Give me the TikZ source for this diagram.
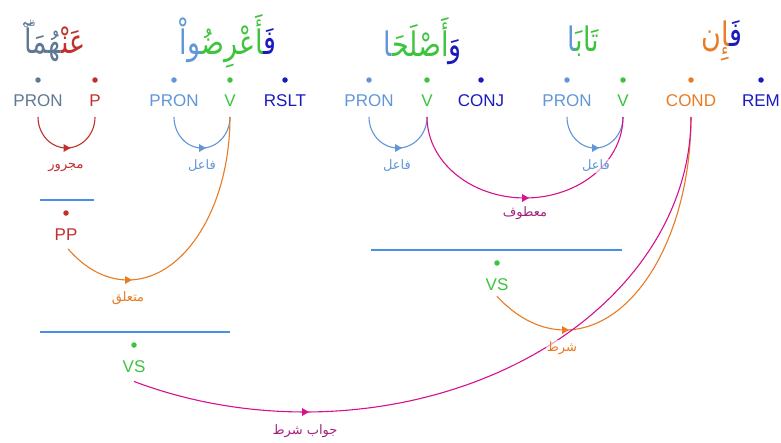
\documentclass[tikz,border=0pt]{standalone}
\usepackage{fontspec}
\usepackage{graphicx}
\setmainfont{Liberation Sans}
\newfontfamily\arabicfont[Script=Arabic]{DejaVu Sans}
\TeXXeTstate=1
\usetikzlibrary{arrows.meta}
\definecolor{cSlate}{HTML}{5F7893}
\definecolor{cRed}{HTML}{C0302E}
\definecolor{cLBlue}{HTML}{6196D8}
\definecolor{cGreen}{HTML}{3DC43D}
\definecolor{cDBlue}{HTML}{1A1ABF}
\definecolor{cOrange}{HTML}{E97B22}
\definecolor{cMag}{HTML}{D6118F}
\definecolor{cMagLbl}{HTML}{A3237A}
\definecolor{cBar}{HTML}{4A90E2}
\newcommand{\zj}{\char"200D\relax}
\newcommand{\tallword}[1]{\scalebox{1}[1.25]{#1}}
\newcommand{\pausemark}{\makebox[0pt][l]{\raisebox{22pt}{\hspace{-1pt}\fontsize{7}{7}\selectfont قلى}}}
\tikzset{
  lbl/.style={font=\fontsize{17}{17}\selectfont, inner sep=0pt},
  dotn/.style={circle, fill, inner sep=0pt, minimum size=5.5pt},
  rel/.style={line width=1.1pt},
  word/.style={font=\arabicfont\fontsize{27}{30}\selectfont, inner sep=0pt},
  tag/.style={font=\arabicfont\fontsize{13}{15}\selectfont, inner sep=1pt, fill=white, fill opacity=0.6, text opacity=1},
  hbar/.style={line width=1.2pt, cBar},
  midtip/.pic={\fill (4,0) -- (-3,4) -- (-3,-4) -- cycle;}
}
\begin{document}
\begin{tikzpicture}[x=1pt,y=-1pt]
\useasboundingbox[fill=white] (0,0) rectangle (781,442);

% words
\node[word] (w1) at (55,41) {\tallword{\textcolor{cSlate}{\pausemark\zj هُمَآ}\textcolor{cRed}{عَنْ\zj}}};
\node[word] (w2) at (228,41) {\tallword{\textcolor{cLBlue}{\zj واْ}\textcolor{cGreen}{\zj أَعْرِضُ\zj}\textcolor{cDBlue}{فَ\zj}}};
\node[word] (w3) at (423,41) {\tallword{\textcolor{cLBlue}{\zj ا}\textcolor{cGreen}{أَصْلَحَ\zj}\textcolor{cDBlue}{وَ}}};
\node[word] (w4) at (583,41) {\tallword{\textcolor{cLBlue}{\zj ا}\textcolor{cGreen}{تَابَ\zj}}};
\node[word] (w5) at (722,41) {\tallword{\textcolor{cOrange}{\zj إِن}\textcolor{cDBlue}{فَ\zj}}};

% dots
\node[dotn, cSlate] (d1) at (38,80) {};
\node[dotn, cRed] (d2) at (95,80) {};
\node[dotn, cLBlue] (d3) at (174,80) {};
\node[dotn, cGreen] (d4) at (230,80) {};
\node[dotn, cDBlue] (d5) at (285,80) {};
\node[dotn, cLBlue] (d6) at (369,80) {};
\node[dotn, cGreen] (d7) at (427,80) {};
\node[dotn, cDBlue] (d8) at (481,80) {};
\node[dotn, cLBlue] (d9) at (567,80) {};
\node[dotn, cGreen] (d10) at (623,80) {};
\node[dotn, cOrange] (d11) at (691,80) {};
\node[dotn, cDBlue] (d12) at (761,80) {};

% POS labels
\node[lbl, cSlate] (t1) at (38,101) {PRON};
\node[lbl, cRed] (t2) at (95,101) {P};
\node[lbl, cLBlue] (t3) at (174,101) {PRON};
\node[lbl, cGreen] (t4) at (230,101) {V};
\node[lbl, cDBlue] (t5) at (285,101) {RSLT};
\node[lbl, cLBlue] (t6) at (369,101) {PRON};
\node[lbl, cGreen] (t7) at (427,101) {V};
\node[lbl, cDBlue] (t8) at (481,101) {CONJ};
\node[lbl, cLBlue] (t9) at (567,101) {PRON};
\node[lbl, cGreen] (t10) at (623,101) {V};
\node[lbl, cOrange] (t11) at (691,101) {COND};
\node[lbl, cDBlue] (t12) at (761,101) {REM};

% hidden phrase nodes
\draw[hbar] (40,200) coordinate (b1l) -- (94,200) coordinate (b1r);
\node[dotn, cRed] (dpp) at (66,213) {};
\node[lbl, cRed] (pp) at (66,235) {PP};
\draw[hbar] (40,332) coordinate (b2l) -- (230,332) coordinate (b2r);
\node[dotn, cGreen] (dvs1) at (134,345) {};
\node[lbl, cGreen] (vs1) at (134,367) {VS};
\draw[hbar] (371,250) coordinate (b3l) -- (622,250) coordinate (b3r);
\node[dotn, cGreen] (dvs2) at (497,263) {};
\node[lbl, cGreen] (vs2) at (497,285) {VS};

% ellipse centres and bottoms
\coordinate (c1) at (66.5,117);  \coordinate (m1) at (66.5,148);
\coordinate (c2) at (202,117);   \coordinate (m2) at (202,148);
\coordinate (c3) at (398,117);   \coordinate (m3) at (398,148);
\coordinate (c4) at (595,117);   \coordinate (m4) at (595,148);
\coordinate (c5) at (525,117);   \coordinate (m5) at (525,198);
\coordinate (c6) at (128,117);   \coordinate (m6) at (128,280);
\coordinate (c7) at (565,117);   \coordinate (m7) at (565,330);
\coordinate (c8) at (305,117);   \coordinate (m8) at (305,412);

% arcs
\draw[rel, cRed, shift={(c1)}] plot[domain=180:0, samples=40] ({28.5*cos(\x)},{31*sin(\x)});
\draw[rel, cLBlue, shift={(c2)}] plot[domain=180:0, samples=40] ({28*cos(\x)},{31*sin(\x)});
\draw[rel, cLBlue, shift={(c3)}] plot[domain=180:0, samples=40] ({29*cos(\x)},{31*sin(\x)});
\draw[rel, cLBlue, shift={(c4)}] plot[domain=180:0, samples=40] ({28*cos(\x)},{31*sin(\x)});
\draw[rel, cMag, shift={(c5)}] plot[domain=180:0, samples=60] ({98*cos(\x)},{81*sin(\x)});
\draw[rel, cOrange, shift={(c6)}] plot[domain=126:0, samples=60] ({102*cos(\x)},{163*sin(\x)});
\draw[rel, cOrange, shift={(c7)}] plot[domain=122.7:0, samples=60] ({126*cos(\x)},{213*sin(\x)});
\draw[rel, cMag, shift={(c8)}] plot[domain=116.3:0, samples=90] ({386*cos(\x)},{295*sin(\x)});

% arrow heads
\pic[cRed] at (m1) {midtip};
\pic[cLBlue] at (m2) {midtip};
\pic[cLBlue] at (m3) {midtip};
\pic[cLBlue] at (m4) {midtip};
\pic[cMag] at (m5) {midtip};
\pic[cOrange] at (m6) {midtip};
\pic[cOrange] at (m7) {midtip};
\pic[cMag] at (m8) {midtip};

% relation labels
\node[tag, text=cRed] (r1) at (66,167) {مجرور};
\node[tag, text=cLBlue] (r2) at (202,166) {فاعل};
\node[tag, text=cLBlue] (r3) at (397,166) {فاعل};
\node[tag, text=cLBlue] (r4) at (596,166) {فاعل};
\node[tag, text=cMagLbl] (r5) at (525,213) {معطوف};
\node[tag, text=cOrange] (r6) at (128,298) {متعلق};
\node[tag, text=cOrange] (r7) at (562,348) {شرط};
\node[tag, text=cMagLbl] (r8) at (305,431) {\beginR جواب شرط\endR};
\end{tikzpicture}
\end{document}
